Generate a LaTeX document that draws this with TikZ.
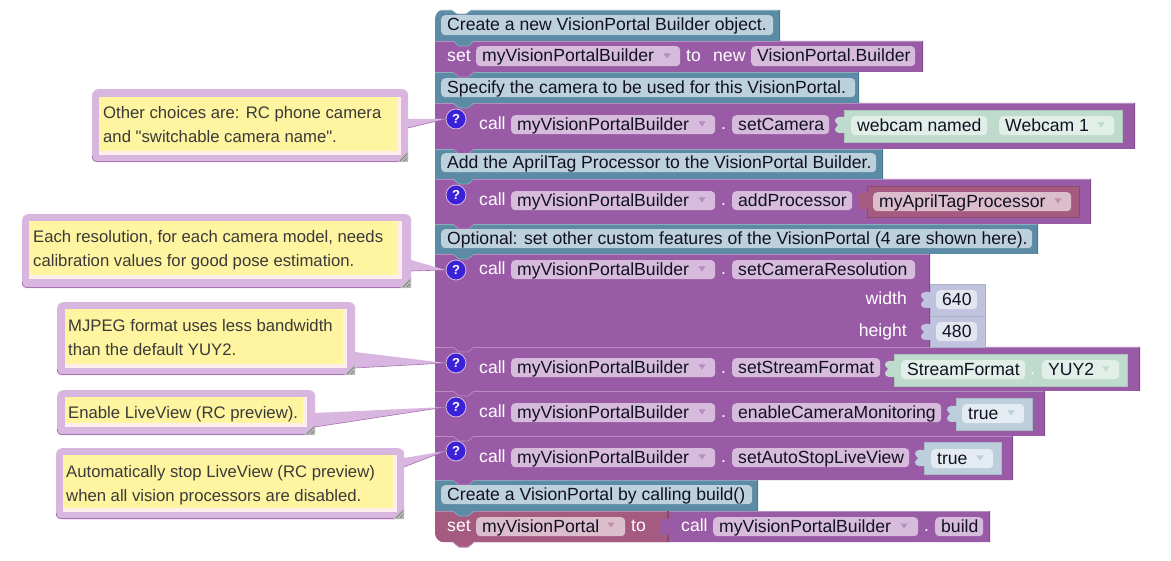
\documentclass[tikz,border=0pt]{standalone}
\usepackage{fontspec}
\setmainfont{Liberation Sans}
\newfontfamily\plainf{Liberation Sans}
\usetikzlibrary{calc}
\definecolor{cmt}{HTML}{5B8BA5}\definecolor{cmtL}{HTML}{8CADC0}\definecolor{cmtD}{HTML}{497A95}\definecolor{cmtF}{HTML}{BDD1DC}
\definecolor{prp}{HTML}{995BA5}\definecolor{prpL}{HTML}{B78CC0}\definecolor{prpD}{HTML}{84498F}\definecolor{prpF}{HTML}{D6BBDC}
\definecolor{var}{HTML}{A55B80}\definecolor{varL}{HTML}{C08CA6}\definecolor{varD}{HTML}{8C4A6B}\definecolor{varF}{HTML}{DBBDCC}
\definecolor{grnB}{HTML}{BFDBCD}\definecolor{grnF}{HTML}{E2EFE9}
\definecolor{numB}{HTML}{BFC3DD}\definecolor{numF}{HTML}{E3E6F1}
\definecolor{booB}{HTML}{BDCFDC}\definecolor{booF}{HTML}{E4ECF2}
\definecolor{bubB}{HTML}{D8B6DF}\definecolor{bubD}{HTML}{A872B3}\definecolor{bubP}{HTML}{FEEEEE}\definecolor{bubY}{HTML}{FFF49F}
\definecolor{ink}{HTML}{111122}\definecolor{bink}{HTML}{3A3A3A}\definecolor{qic}{HTML}{3A22D8}
\newcommand{\fs}{\fontsize{17.6}{20}\selectfont}
\tikzset{
 fldbox/.style={inner sep=0pt,anchor=north west,rounded corners=4pt,text=ink,font=\fs},
 labtxt/.style={inner sep=0pt,anchor=west,text=white,font=\fs,text height=14pt,text depth=2.5pt},
 bubout/.style={inner sep=0pt,anchor=north west,rounded corners=6pt,fill=bubB},
 bubtxt/.style={inner sep=0pt,anchor=north west,align=left,text=bink,font=\fontsize{16.7}{24}\selectfont},
 qicon/.style={circle,fill=qic,draw=prpF,line width=0.8pt,minimum size=20pt,inner sep=0pt,text=white,font=\bfseries\fontsize{13}{13}\selectfont},
 valbox/.style={line width=0.6pt}
}
% block: x1 y1 x2 y2 colourprefix
\newcommand{\blk}[5]{%
 \fill[#5] (#1,#2) -- (#3,#2) -- (#3,#4) -- (474,#4) -- (468,#4+5) -- (459,#4+5) -- (453,#4) -- (#1,#4) -- cycle;
 \draw[#5L,line width=0.9pt] (#1,#2+0.4) -- (#3,#2+0.4);
 \draw[#5D,line width=0.6pt] (#3-0.3,#2) -- (#3-0.3,#4-0.3);
 \draw[#5L,line width=0.7pt] (474,#4) -- (468,#4+5) -- (459,#4+5) -- (453,#4);
}
% field: name x1 y1 x2 y2 fill text
\newcommand{\fld}[7]{%
 \pgfmathsetmacro\fw{#4-#2}\pgfmathsetmacro\fh{#5-#3}%
 \node[fldbox,fill=#6,minimum width=\fw pt,minimum height=\fh pt,text height=14pt,text depth=2.5pt] (#1) at (#2,#3) {\makebox[\fw pt][l]{\hspace{6pt}#7}};
}
% label: name x ycenter text
\newcommand{\lab}[4]{\node[labtxt] (#1) at (#2,#3) {#4};}
% dropdown arrow
\newcommand{\drop}[3]{\fill[#3] (#1-3.5,#2-2.5) -- (#1+3.5,#2-2.5) -- (#1,#2+2.5) -- cycle;}
% plug x(right edge) ymid colour
\newcommand{\plug}[3]{\fill[#3] (#1+1,#2-8) -- (#1-5,#2-8) .. controls (#1-8,#2-8) and (#1-9,#2-6) .. (#1-9,#2-4) .. controls (#1-9,#2-2) and (#1-6,#2-1) .. (#1-6,#2) .. controls (#1-6,#2+1) and (#1-9,#2+2) .. (#1-9,#2+4) .. controls (#1-9,#2+6) and (#1-8,#2+8) .. (#1-5,#2+8) -- (#1+1,#2+8) -- cycle;}
% value block
\newcommand{\vblk}[5]{\draw[fill=#5,draw=#5!90!black,valbox] (#1,#2) rectangle (#3,#4);}
% bubble: name x1 y1 x2 y2 yx1 yy1 yx2 yy2
\newcommand{\bub}[9]{%
 \pgfmathsetmacro\fw{#4-#2}\pgfmathsetmacro\fh{#5-#3}%
 \node[bubout,minimum width=\fw pt,minimum height=\fh pt] (#1) at (#2,#3) {};
 \draw[bubD,line width=0.8pt] (#2+0.3,#5-6) .. controls (#2+0.3,#5-2) and (#2+2,#5-0.4) .. (#2+6,#5-0.4) -- (#4-10,#5-0.4);
 \fill[bubP] (#6,#7) rectangle (#8+4,#9+4);
 \fill[bubY] (#6,#7) rectangle (#8,#9);
 \fill[black!28] (#4,#5-11) -- (#4,#5) -- (#4-11,#5) -- cycle;
 \draw[black!55,line width=0.6pt] (#4-8,#5-1) -- (#4-1,#5-8) (#4-4,#5-1) -- (#4-1,#5-4);
}
% tail: bubble d1 d2 icon anchor-angle
\newcommand{\tail}[5]{%
 \fill[bubB] ($(#1.north east)+(-0.5,#2)$) -- (#4.#5) -- ($(#1.north east)+(-0.5,#3)$) -- cycle;
 \draw[bubD,line width=0.6pt] (#4.#5) -- ($(#1.north east)+(-0.5,#3)$);
}
\begin{document}
\begin{tikzpicture}[x=1pt,y=-1pt]
\useasboundingbox (0,0) rectangle (1171,561);
\fill[white] (0,0) rectangle (1171,561);
% ---------- blocks, lowest first so each tab lies over the next block
\blk{668}{511}{990}{542}{prp}
\blk{435}{511}{668}{542}{var}
\blk{435}{480}{758}{511}{cmt}
\blk{435}{436}{1013}{480}{prp}
\blk{435}{391}{1045}{436}{prp}
\blk{435}{347}{1140}{391}{prp}
\blk{435}{254}{930}{347}{prp}
\blk{435}{224}{1038}{254}{cmt}
\blk{435}{179}{1091}{224}{prp}
\blk{435}{149}{883}{179}{cmt}
\blk{435}{103}{1135}{149}{prp}
\blk{435}{72}{859}{103}{cmt}
\blk{435}{41}{923}{72}{prp}
\blk{435}{10}{780}{41}{cmt}
% hat notch and rounded corners
\fill[white] (434,9) -- (444,9) .. controls (439,9.5) and (435.5,13) .. (435,18) -- (434,18) -- cycle;
\fill[white] (451,9) -- (457,14) -- (466,14) -- (472,9) -- cycle;
\draw[cmtL,line width=0.8pt] (451,10) -- (457,14) -- (466,14) -- (472,10);
\fill[white] (434,534) -- (435,534) .. controls (435.5,539) and (439,542) .. (444,542.5) -- (434,543) -- cycle;
\draw[varD,line width=0.5pt] (668,511) -- (668,542);
% ---------- comment rows
\fld{c1}{441}{15}{773}{35}{cmtF}{Create a new VisionPortal Builder object.}
\fld{c2}{441}{78}{855}{97}{cmtF}{Specify the camera to be used for this VisionPortal.}
\fld{c3}{441}{153}{876}{172}{cmtF}{Add the AprilTag Processor to the VisionPortal Builder.}
\fld{c4}{441}{229}{1032}{248}{cmtF}{Optional: set other custom features of the VisionPortal (4 are shown here).}
\fld{c5}{441}{485}{752}{504}{cmtF}{Create a VisionPortal by calling build()}
% ---------- set builder
\lab{l1}{447}{56}{set}
\fld{f1}{476}{46}{680}{66}{prpF}{myVisionPortalBuilder}\drop{667}{56}{prpL}
\lab{l2}{686}{56}{to}
\lab{l3}{713}{56}{new}
\fld{f2}{751}{46}{915}{66}{prpF}{VisionPortal.Builder}
% ---------- setCamera
\lab{l4}{479}{124}{call}
\fld{f3}{511}{115}{715}{134}{prpF}{myVisionPortalBuilder}\drop{702}{124}{prpL}
\lab{d1}{721}{124}{.}
\fld{f4}{732}{115}{829}{134}{prpF}{setCamera}
\vblk{844}{110}{1122}{142}{grnB}
\plug{844}{125}{grnB}
\fld{f5}{851}{116}{987}{135}{grnF}{webcam named}
\fld{f6}{999}{116}{1114}{135}{grnF}{Webcam 1}\drop{1101}{125}{grnB}
% ---------- addProcessor
\lab{l5}{479}{200}{call}
\fld{f7}{511}{191}{715}{210}{prpF}{myVisionPortalBuilder}\drop{702}{200}{prpL}
\lab{d2}{721}{200}{.}
\fld{f8}{732}{191}{852}{210}{prpF}{addProcessor}
\draw[fill=var,draw=varD,line width=0.7pt] (867,186) rectangle (1079,217);
\plug{867}{201}{var}
\fld{f9}{873}{192}{1071}{211}{varF}{myAprilTagProcessor}\drop{1058}{201}{varL}
% ---------- setCameraResolution
\lab{l6}{479}{269}{call}
\fld{f10}{511}{260}{715}{279}{prpF}{myVisionPortalBuilder}\drop{702}{269}{prpL}
\lab{d3}{721}{269}{.}
\fld{f11}{732}{260}{915}{279}{prpF}{setCameraResolution}
\node[labtxt,anchor=east] (l7) at (907,299) {width};
\node[labtxt,anchor=east] (l8) at (907,331) {height};
\vblk{930}{284.5}{985}{316}{numB}
\vblk{930}{316}{985}{347}{numB}
\plug{930}{300}{numB}
\plug{930}{332}{numB}
\fld{f12}{936}{290}{977}{309}{numF}{640}
\fld{f13}{936}{322}{977}{341}{numF}{480}
% ---------- setStreamFormat
\lab{l9}{479}{368}{call}
\fld{f14}{511}{358}{715}{377}{prpF}{myVisionPortalBuilder}\drop{702}{367}{prpL}
\lab{d4}{721}{368}{.}
\fld{f15}{732}{358}{880}{377}{prpF}{setStreamFormat}
\vblk{894}{354}{1127}{386}{grnB}
\plug{894}{369}{grnB}
\fld{f16}{901}{360}{1025}{379}{grnF}{StreamFormat}
\lab{d5}{1030}{369}{.}
\fld{f17}{1042}{360}{1119}{379}{grnF}{YUY2}\drop{1106}{369}{grnB}
% ---------- enableCameraMonitoring
\lab{l10}{479}{412}{call}
\fld{f18}{511}{403}{715}{422}{prpF}{myVisionPortalBuilder}\drop{702}{412}{prpL}
\lab{d6}{721}{412}{.}
\fld{f19}{732}{403}{941}{422}{prpF}{enableCameraMonitoring}
\vblk{956}{398}{1032}{430}{booB}
\plug{956}{414}{booB}
\fld{f20}{962}{404}{1024}{423}{booF}{true}\drop{1011}{413}{booB}
% ---------- setAutoStopLiveView
\lab{l11}{479}{457}{call}
\fld{f21}{511}{448}{715}{467}{prpF}{myVisionPortalBuilder}\drop{702}{457}{prpL}
\lab{d7}{721}{457}{.}
\fld{f22}{732}{448}{909}{467}{prpF}{setAutoStopLiveView}
\vblk{924}{442}{1001}{474}{booB}
\plug{924}{458}{booB}
\fld{f23}{931}{449}{993}{468}{booF}{true}\drop{980}{458}{booB}
% ---------- set myVisionPortal
\lab{l12}{447}{526}{set}
\fld{f24}{476}{517}{625}{536}{varF}{myVisionPortal}\drop{611}{525}{varL}
\lab{l13}{631}{526}{to}
\plug{668}{527}{prp}
\lab{l14}{681}{526}{call}
\fld{f25}{713}{517}{918}{536}{prpF}{myVisionPortalBuilder}\drop{904}{526}{prpL}
\lab{d8}{924}{526}{.}
\fld{f26}{935}{517}{983}{536}{prpF}{build}
% ---------- help icons
\node[qicon] (q1) at (456,119) {?};
\node[qicon] (q2) at (456,195) {?};
\node[qicon] (q3) at (456,270) {?};
\node[qicon] (q4) at (456,363) {?};
\node[qicon] (q5) at (456,407) {?};
\node[qicon] (q6) at (456,451) {?};
% ---------- bubbles
\bub{b1}{92}{89}{408}{162}{99}{97}{397}{151}
\node[bubtxt] (t1) at (103,106) {Other choices are: RC phone camera\\and {\plainf"}switchable camera name{\plainf"}.};
\tail{b1}{30}{39}{q1}{180}
\bub{b2}{22}{214}{411}{288}{29}{221}{398}{275}
\node[bubtxt] (t2) at (33,230) {Each resolution, for each camera model, needs\\calibration values for good pose estimation.};
\tail{b2}{46}{57}{q3}{180}
\bub{b3}{57}{302}{355}{375}{65}{309}{343}{364}
\node[bubtxt] (t3) at (68,319) {MJPEG format uses less bandwidth\\than the default YUY2.};
\tail{b3}{50}{66}{q4}{180}
\bub{b4}{57}{390}{315}{435}{65}{397}{303}{423}
\node[bubtxt] (t4) at (68,406) {Enable LiveView (RC preview).};
\tail{b4}{23}{37}{q5}{180}
\bub{b5}{56}{448}{404}{519}{63}{455}{393}{508}
\node[bubtxt] (t5) at (66,465) {Automatically stop LiveView (RC preview)\\when all vision processors are disabled.};
\tail{b5}{10}{19}{q6}{180}
\end{tikzpicture}
\end{document}
